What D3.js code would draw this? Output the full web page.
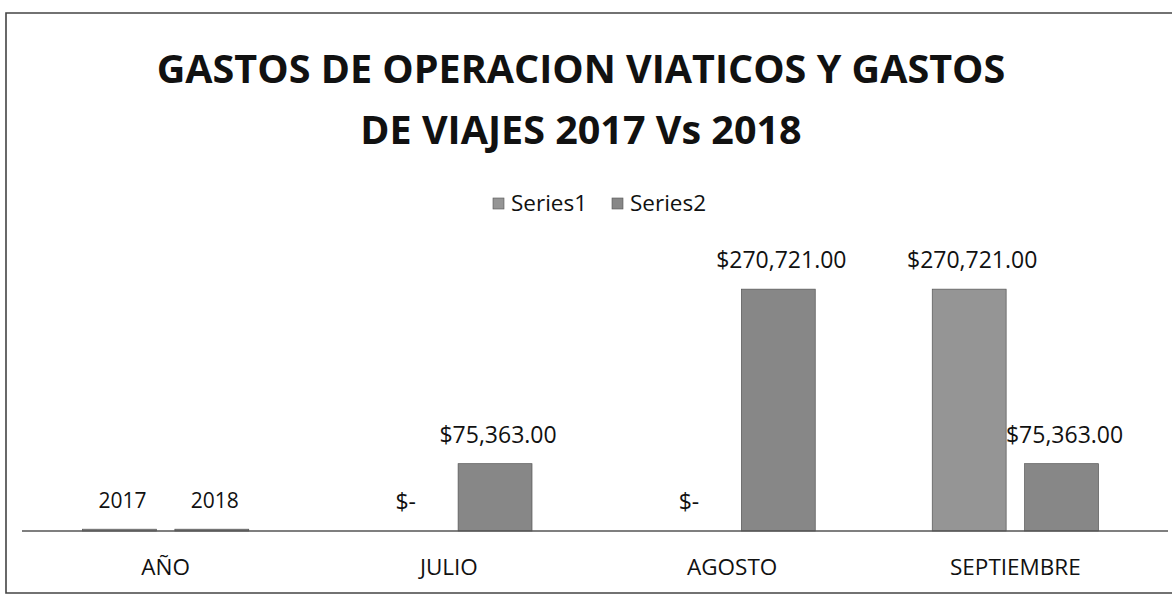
<!DOCTYPE html>
<html>
<head>
<meta charset="utf-8">
<style>
  body { margin: 0; background: #fff; overflow: hidden; }
  svg text { font-family: "Open Sans", "DejaVu Sans", sans-serif; fill: #111; }
</style>
</head>
<body>
<svg width="1172" height="604"></svg>
<script src="https://d3js.org/d3.v7.min.js"></script>
<script>
var categories = ["AÑO", "JULIO", "AGOSTO", "SEPTIEMBRE"];
var seriesNames = ["Series1", "Series2"];
var series1 = [2017, 0, 0, 270721];
var series2 = [2018, 75363, 270721, 75363];
var titleLines = ["GASTOS DE OPERACION VIATICOS Y GASTOS", "DE VIAJES 2017 Vs 2018"];
var seriesColors = ["#959595", "#878787"];

var svg = d3.select("svg");
var baseY = 531, topY = 263;

// outer frame of the pasted chart: left, top and bottom edges only
svg.append("path")
    .attr("d", "M1172,13 H6 V593 H1172")
    .attr("fill", "none").attr("stroke", "#444").attr("stroke-width", 1.6);

// title
svg.selectAll("text.title").data(titleLines).enter().append("text")
    .attr("class", "title")
    .attr("x", 581)
    .attr("y", function(d, i) { return 83 + i * 61; })
    .attr("text-anchor", "middle")
    .style("font-size", "39.5px")
    .style("font-weight", "bold")
    .text(function(d) { return d; });

// legend
var legend = svg.selectAll("g.leg").data(seriesNames).enter().append("g")
    .attr("class", "leg")
    .attr("transform", function(d, i) { return "translate(" + (493 + i * 119) + ",198)"; });
legend.append("rect")
    .attr("width", 11).attr("height", 11)
    .attr("fill", function(d, i) { return seriesColors[i]; })
    .attr("stroke", "#555").attr("stroke-width", 0.6);
legend.append("text")
    .attr("x", 18).attr("y", 13)
    .style("font-size", "22.5px")
    .text(function(d) { return d; });

var x0 = d3.scaleBand().domain(categories).range([24, 1157]);
var x1 = d3.scaleBand().domain(seriesNames)
    .range([58.5, x0.bandwidth() - 58.5]).paddingInner(0.2);
var y = d3.scaleLinear().domain([0, 300000]).range([baseY, topY]);

var rows = categories.map(function(c, i) {
    return { cat: c, vals: [series1[i], series2[i]] };
});

function fmt(cat, v) {
    if (cat === "AÑO") return String(v);
    if (v === 0) return "$-";
    return "$" + d3.format(",.2f")(v);
}

var groups = svg.selectAll("g.cat").data(rows).enter().append("g")
    .attr("class", "cat")
    .attr("transform", function(d) { return "translate(" + x0(d.cat) + ",0)"; });

groups.selectAll("rect").data(function(d) {
    return d.vals.map(function(v, i) { return { cat: d.cat, s: seriesNames[i], i: i, v: v }; });
}).enter().append("rect")
    .attr("x", function(d) { return x1(d.s); })
    .attr("y", function(d) { return y(d.v); })
    .attr("width", x1.bandwidth())
    .attr("height", function(d) { return baseY - y(d.v); })
    .attr("fill", function(d) { return seriesColors[d.i]; })
    .attr("stroke", "#555").attr("stroke-width", 0.7);

groups.selectAll("text").data(function(d) {
    return d.vals.map(function(v, i) { return { cat: d.cat, s: seriesNames[i], v: v }; });
}).enter().append("text")
    .attr("x", function(d) { return x1(d.s) + x1.bandwidth() / 2 + 3; })
    .attr("y", function(d) { return y(d.v) - 21; })
    .attr("text-anchor", "middle")
    .style("font-size", function(d) { return d.cat === "AÑO" ? "21px" : "23px"; })
    .text(function(d) { return fmt(d.cat, d.v); });

// category axis
svg.append("line")
    .attr("x1", 22).attr("x2", 1168)
    .attr("y1", baseY).attr("y2", baseY)
    .attr("stroke", "#555").attr("stroke-width", 1.4);

var xAxis = svg.append("g")
    .attr("transform", "translate(0," + baseY + ")")
    .call(d3.axisBottom(x0).tickSize(0).tickPadding(28));
xAxis.select(".domain").remove();
xAxis.selectAll("text")
    .style("font-size", "22.5px")
    .style("font-family", "'Open Sans', sans-serif")
    .attr("fill", "#111");
</script>
</body>
</html>
